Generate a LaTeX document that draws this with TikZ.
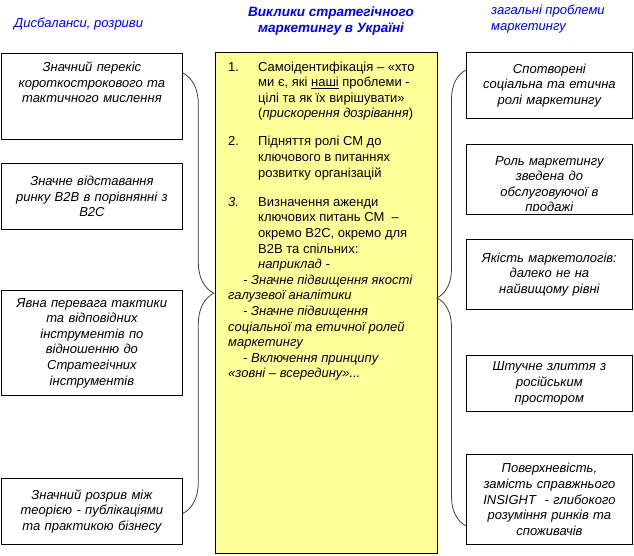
\documentclass[tikz,border=0pt]{standalone}
\usepackage{fontspec}
\setmainfont{Liberation Sans}
\usetikzlibrary{positioning,decorations.pathreplacing}
\definecolor{NoteYellow}{RGB}{255,255,153}
\definecolor{HeadBlue}{RGB}{0,0,235}
\newcommand{\boxfont}{\fontsize{13}{15.6}\selectfont}
\tikzset{
  gapbox/.style={draw,line width=0.8pt,text width=175pt,minimum width=181pt,
    align=center,inner xsep=3pt,inner ysep=3pt,anchor=north west,
    font=\boxfont\itshape},
  issuebox/.style={gapbox,text width=160pt,minimum width=166pt},
  issuetext/.style={text width=160pt,align=center,inner sep=0pt,font=\boxfont\itshape},
  heading/.style={text=HeadBlue,font=\fontsize{13}{16}\selectfont\itshape,
    align=left,inner sep=0pt},
  bracket/.style={decorate,draw=black!75,line width=0.8pt}
}
\begin{document}
\begin{tikzpicture}[x=1pt,y=-1pt]
  \useasboundingbox (0,0) rectangle (634,555);
  % headings
  \node[heading,anchor=west] (lefthead) at (14,24) {Дисбаланси, розриви};
  \node[heading,align=center,font=\fontsize{13.5}{16}\selectfont\bfseries\itshape] (title) at (331,21)
    {Виклики стратегічного\\маркетингу в Україні};
  \node[heading,anchor=west] (righthead) at (491,19) {загальні проблеми\\маркетингу};
  % left column
  \node[gapbox,minimum height=86pt,text height=15pt,text depth=65pt] (l1) at (1,53)
    {Значний перекіс\\короткострокового та\\тактичного мислення};
  \node[gapbox,minimum height=66pt] (l2) at (1,163)
    {Значне відставання\\ринку B2B в порівнянні з\\B2C};
  \node[gapbox,minimum height=105pt] (l3) at (1,290)
    {Явна перевага тактики\\та відповідних\\інструментів по\\відношенню до\\Стратегічних\\інструментів};
  \node[gapbox,minimum height=66pt] (l4) at (1,478)
    {Значний розрив між\\теорією - публікаціями\\та практикою бізнесу};
  % centre column
  \node[draw,line width=0.8pt,fill=NoteYellow,anchor=north west,minimum width=222pt,
    minimum height=501pt] (agenda) at (215,52) {};
  \node[anchor=base west,inner sep=0pt,font=\boxfont] (agendatxt)
    at ([xshift=13pt,yshift=-19pt]agenda.north west) {%
    \begin{tabular}[t]{@{}p{30pt}@{}l@{}}
    1. & Самоідентифікація – «хто\\
       & ми є, які \underline{наші} проблеми -\\
       & цілі та як їх вирішувати»\\
       & (\textit{прискорення дозрівання})\\[12.5pt]
    2. & Підняття ролі СМ до\\
       & ключового в питаннях\\
       & розвитку організацій\\[13.5pt]
    \textit{3.} & Визначення аженди\\
       & ключових питань СМ~~–\\
       & окремо B2C, окремо для\\
       & B2B та спільних:\\
       & \textit{наприклад -}\\
    \multicolumn{2}{@{}l@{}}{\itshape\hspace*{15pt}- Значне підвищення якості}\\
    \multicolumn{2}{@{}l@{}}{\itshape галузевої аналітики}\\
    \multicolumn{2}{@{}l@{}}{\itshape\hspace*{15pt}- Значне підвищення}\\
    \multicolumn{2}{@{}l@{}}{\itshape соціальної та етичної ролей}\\
    \multicolumn{2}{@{}l@{}}{\itshape маркетингу}\\
    \multicolumn{2}{@{}l@{}}{\itshape\hspace*{15pt}- Включення принципу}\\
    \multicolumn{2}{@{}l@{}}{\itshape «зовні – всередину»...}
    \end{tabular}};
  % right column
  \node[issuebox,minimum height=66pt] (r1) at (466,52)
    {Спотворені\\соціальна та етична\\ролі маркетингу};
  \node[issuebox,minimum height=70pt] (r2) at (466,144) {};
  \begin{scope}
    \clip (r2.north west) rectangle ([yshift=4pt]r2.south east);
    \node[issuetext,anchor=base] (r2txt) at ([yshift=-21pt]r2.north)
      {Роль маркетингу\\зведена до\\обслуговуючої в\\продажі};
  \end{scope}
  \node[issuebox,minimum height=70pt] (r3) at (466,239)
    {Якість маркетологів:\\далеко не на\\найвищому рівні};
  \node[issuebox,minimum height=56pt] (r4) at (466,355)
    {Штучне злиття з\\російським\\простором};
  \node[issuebox,minimum height=90pt] (r5) at (466,454)
    {Поверхневість,\\замість справжнього\\INSIGHT~ - глибокого\\розуміння ринків та\\споживачів};
  % braces
  \draw[bracket,decoration={brace,amplitude=31pt}]
    ([yshift=-20pt]l1.north east) -- ([yshift=-2pt]l4.east);
  \draw[bracket,decoration={brace,amplitude=29pt}]
    ([yshift=19pt]r5.south west) -- ([yshift=-18pt]r1.north west);
\end{tikzpicture}
\end{document}
